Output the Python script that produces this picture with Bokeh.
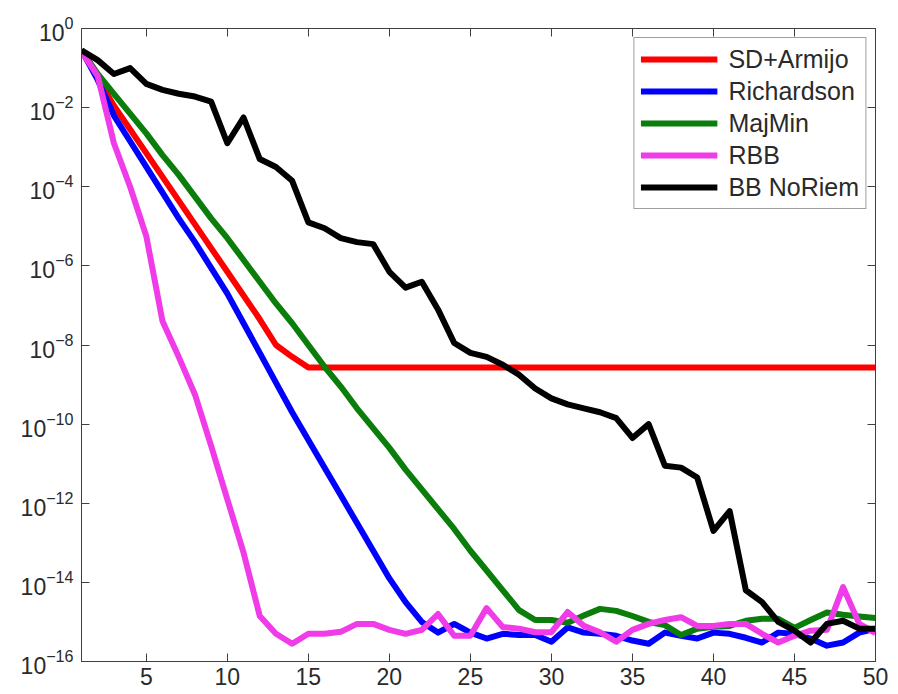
from bokeh.plotting import figure
from bokeh.models import (FixedTicker, LogTickFormatter, LinearAxis, LogAxis, Range1d,
                          Legend, LegendItem, CustomJSTickFormatter)
from bokeh.embed import file_html
from bokeh.resources import INLINE

# ---------------- data (log10 of the error) ----------------
iterations = list(range(1, 51))

sd_armijo_log10 = [
    -0.55, -1.25, -1.95, -2.55, -3.15, -3.75, -4.35, -4.95, -5.55, -6.15,
    -6.75, -7.35, -8.0, -8.3, -8.57, -8.57, -8.57, -8.57, -8.57, -8.57,
    -8.57, -8.57, -8.57, -8.57, -8.57, -8.57, -8.57, -8.57, -8.57, -8.57,
    -8.57, -8.57, -8.57, -8.57, -8.57, -8.57, -8.57, -8.57, -8.57, -8.57,
    -8.57, -8.57, -8.57, -8.57, -8.57, -8.57, -8.57, -8.57, -8.57, -8.57,
]

richardson_log10 = [
    -0.55, -1.3, -2.2, -2.85, -3.5, -4.15, -4.8, -5.4, -6.05, -6.7,
    -7.45, -8.2, -8.95, -9.7, -10.4, -11.1, -11.8, -12.5, -13.2, -13.9,
    -14.5, -15.0, -15.27, -15.05, -15.27, -15.42, -15.3, -15.33, -15.33, -15.5,
    -15.14, -15.27, -15.3, -15.35, -15.47, -15.55, -15.27, -15.35, -15.42, -15.27,
    -15.3, -15.4, -15.52, -15.27, -15.3, -15.42, -15.6, -15.52, -15.27, -15.17,
]

majmin_log10 = [
    -0.55, -1.15, -1.65, -2.15, -2.65, -3.2, -3.7, -4.25, -4.8, -5.3,
    -5.85, -6.4, -6.95, -7.45, -8.0, -8.55, -9.05, -9.6, -10.1, -10.6,
    -11.15, -11.65, -12.15, -12.65, -13.2, -13.7, -14.2, -14.7, -14.95, -14.95,
    -15.02, -14.84, -14.67, -14.72, -14.85, -15.0, -15.08, -15.33, -15.17, -15.12,
    -15.1, -14.97, -14.92, -14.92, -15.15, -14.95, -14.76, -14.82, -14.86, -14.9,
]

rbb_log10 = [
    -0.58, -1.2, -2.9, -4.0, -5.25, -7.4, -8.3, -9.25, -10.55, -11.9,
    -13.25, -14.85, -15.3, -15.55, -15.3, -15.3, -15.25, -15.05, -15.05, -15.2,
    -15.3, -15.2, -14.8, -15.35, -15.35, -14.65, -15.13, -15.17, -15.26, -15.26,
    -14.75, -15.1, -15.26, -15.5, -15.2, -15.05, -14.95, -14.88, -15.1, -15.1,
    -15.05, -15.05, -15.3, -15.52, -15.35, -15.22, -15.2, -14.12, -15.05, -15.28,
]

bb_noriem_log10 = [
    -0.55, -0.8, -1.15, -1.0, -1.4, -1.55, -1.65, -1.72, -1.85, -2.9,
    -2.25, -3.3, -3.5, -3.85, -4.9, -5.05, -5.3, -5.4, -5.45, -6.15,
    -6.55, -6.4, -7.1, -7.95, -8.2, -8.3, -8.5, -8.75, -9.1, -9.35,
    -9.5, -9.6, -9.7, -9.85, -10.35, -10.0, -11.05, -11.1, -11.35, -12.7,
    -12.2, -14.2, -14.5, -15.0, -15.22, -15.52, -15.05, -14.97, -15.17, -15.17,
]

series_names = ["SD+Armijo", "Richardson", "MajMin", "RBB", "BB NoRiem"]
series_log10 = [sd_armijo_log10, richardson_log10, majmin_log10, rbb_log10, bb_noriem_log10]
series_colors = ["#ff0000", "#0000ff", "#0a7d0a", "#f03ce8", "#000000"]

x_ticks = [5, 10, 15, 20, 25, 30, 35, 40, 45, 50]
y_ticks = [1e-16, 1e-14, 1e-12, 1e-10, 1e-8, 1e-6, 1e-4, 1e-2, 1e0]

FONT = "Liberation Sans"
TEXT_COLOR = "#2a2a2a"
AXIS_COLOR = "#404040"

p = figure(width=898, height=694,
           x_range=Range1d(1, 50), y_range=Range1d(1e-16, 1),
           y_axis_type="log", output_backend="svg", toolbar_location=None,
           min_border_left=81, min_border_right=23, min_border_top=28, min_border_bottom=33,
           background_fill_color="white", border_fill_color="white")

p.xgrid.visible = False
p.ygrid.visible = False
p.outline_line_color = AXIS_COLOR
p.outline_line_width = 1


def style_axis(ax):
    ax.axis_line_color = AXIS_COLOR
    ax.major_tick_line_color = AXIS_COLOR
    ax.major_tick_in = 8
    ax.major_tick_out = 0
    ax.minor_tick_in = 0
    ax.minor_tick_out = 0
    ax.minor_tick_line_color = None
    ax.major_label_text_font = FONT
    ax.major_label_text_color = TEXT_COLOR
    ax.major_label_text_font_size = "23px"


p.xaxis.ticker = FixedTicker(ticks=x_ticks, minor_ticks=[])
p.yaxis.ticker = FixedTicker(ticks=y_ticks, minor_ticks=[])
p.yaxis.formatter = LogTickFormatter()
style_axis(p.xaxis[0])
style_axis(p.yaxis[0])
p.xaxis.major_label_standoff = 6
p.yaxis.major_label_standoff = 8

blank = CustomJSTickFormatter(code="return '';")
top_axis = LinearAxis(ticker=FixedTicker(ticks=x_ticks, minor_ticks=[]), formatter=blank)
right_axis = LogAxis(ticker=FixedTicker(ticks=y_ticks, minor_ticks=[]), formatter=blank)
style_axis(top_axis)
style_axis(right_axis)
top_axis.major_label_standoff = 0
right_axis.major_label_standoff = 0
p.add_layout(top_axis, "above")
p.add_layout(right_axis, "right")

items = []
for name, vals, color in zip(series_names, series_log10, series_colors):
    ys = [10 ** v for v in vals]
    r = p.line(iterations, ys, line_color=color, line_width=6, line_join="round")
    items.append(LegendItem(label=name, renderers=[r]))

legend = Legend(items=items, location="top_right")
legend.margin = 9
legend.padding = 6
legend.spacing = 2
legend.label_height = 30
legend.glyph_height = 30
legend.glyph_width = 77
legend.label_standoff = 11
legend.label_text_font = FONT
legend.label_text_font_size = "25px"
legend.label_text_color = TEXT_COLOR
legend.border_line_color = AXIS_COLOR
legend.border_line_width = 1
legend.background_fill_color = "white"
legend.background_fill_alpha = 1.0
p.add_layout(legend)

open("out.html", "w").write(file_html(p, INLINE))
